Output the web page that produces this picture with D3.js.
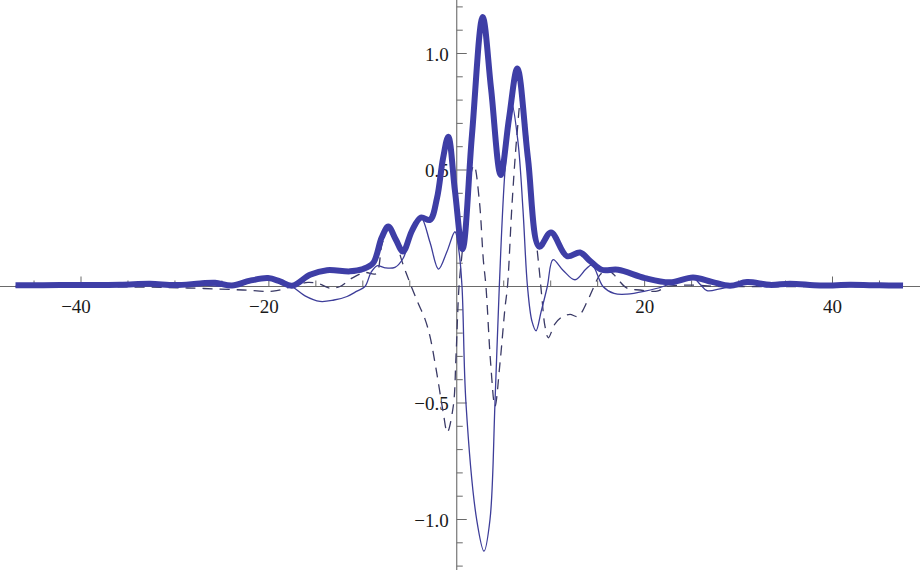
<!DOCTYPE html>
<html>
<head>
<meta charset="utf-8">
<script src="https://cdn.jsdelivr.net/npm/d3@7/dist/d3.min.js"></script>
<style>
  html, body { margin: 0; padding: 0; background: #fff; }
  svg { display: block; }
</style>
</head>
<body>
<svg id="chart" width="920" height="570"></svg>
<script>
// ---- Data (x, value) ----
const modulusSeries = [
  [-46.97, 0.005], [-42.24, 0.006], [-35.85, 0.008], [-32.65, 0.012], [-29.99, 0.006],
  [-27.33, 0.013], [-25.73, 0.016], [-23.92, 0.004], [-22.01, 0.025], [-20.09, 0.036],
  [-18.82, 0.022], [-17.54, 0.003], [-15.62, 0.05], [-13.81, 0.07], [-11.36, 0.065],
  [-9.98, 0.075], [-8.91, 0.1], [-7.99, 0.21], [-7.29, 0.257], [-6.47, 0.2],
  [-5.72, 0.15], [-4.76, 0.24], [-3.81, 0.296], [-2.85, 0.286], [-2.10, 0.38],
  [-1.46, 0.55], [-0.90, 0.643], [-0.19, 0.41], [0.61, 0.16], [1.62, 0.65],
  [2.76, 1.157], [3.65, 0.85], [4.68, 0.479], [5.56, 0.72], [6.45, 0.936],
  [7.58, 0.55], [8.79, 0.171], [10.03, 0.232], [11.74, 0.13], [13.12, 0.146],
  [14.18, 0.11], [15.43, 0.072], [17.17, 0.072], [20.04, 0.036], [22.70, 0.018],
  [25.15, 0.039], [27.17, 0.02], [29.09, 0.003], [30.90, 0.019], [33.35, 0.007],
  [35.48, 0.012], [38.67, 0.004], [41.86, 0.007], [45.05, 0.005], [47.51, 0.004]
];

const realSeries = [
  [-46.97, 0.0], [-38.03, 0.002], [-32.65, 0.008], [-27.33, 0.006], [-23.92, 0.0],
  [-22.01, 0.018], [-20.09, 0.032], [-18.82, 0.02], [-17.54, 0.0], [-16.15, -0.04],
  [-14.56, -0.064], [-13.07, -0.058], [-11.68, -0.043], [-10.62, -0.02], [-9.77, 0.0],
  [-9.13, 0.06], [-8.49, 0.089], [-7.64, 0.08], [-6.58, 0.082], [-5.72, 0.12],
  [-4.76, 0.23], [-3.81, 0.296], [-2.85, 0.19], [-1.94, 0.075], [-1.04, 0.15],
  [-0.19, 0.235], [0.24, 0.15], [0.56, 0.0], [0.98, -0.5], [2.12, -1.0],
  [2.90, -1.136], [3.54, -1.0], [4.07, -0.5], [4.53, 0.0], [5.14, 0.5],
  [5.85, 0.786], [6.52, 0.62], [7.05, 0.33], [7.53, 0.0], [8.01, -0.15],
  [8.44, -0.19], [8.97, -0.11], [9.64, 0.0], [10.25, 0.115], [11.31, 0.07],
  [12.59, 0.029], [13.76, 0.075], [14.40, 0.093], [15.57, 0.0], [16.74, -0.03],
  [18.12, -0.033], [20.04, -0.02], [21.96, 0.0], [23.77, 0.03], [25.15, 0.038],
  [25.90, 0.01], [26.64, -0.018], [28.02, -0.01], [29.09, 0.0], [30.90, 0.015],
  [32.82, 0.0], [36.55, 0.004], [41.86, 0.0], [47.51, 0.0]
];

const imagSeries = [
  [-46.97, 0.0], [-32.65, -0.003], [-27.33, -0.008], [-22.76, -0.015], [-19.56, -0.02],
  [-17.54, 0.0], [-15.84, 0.018], [-14.56, 0.01], [-13.49, -0.007], [-12.43, 0.0],
  [-11.15, 0.036], [-9.77, 0.06], [-8.60, 0.055], [-7.96, 0.18], [-7.32, 0.245],
  [-6.58, 0.2], [-5.72, 0.095], [-4.98, 0.015], [-4.13, -0.07], [-3.38, -0.14],
  [-2.85, -0.214], [-2.13, -0.371], [-1.43, -0.543], [-1.01, -0.626], [-0.37, -0.514],
  [-0.08, -0.3], [0.24, 0.0], [0.61, 0.16], [1.20, 0.42], [1.84, 0.52],
  [2.40, 0.37], [2.83, 0.114], [3.11, 0.0], [3.61, -0.33], [4.07, -0.514],
  [4.60, -0.33], [5.14, -0.09], [5.40, 0.0], [5.88, 0.35], [6.41, 0.65],
  [6.84, 0.80], [7.27, 0.74], [7.80, 0.5], [8.33, 0.25], [8.81, 0.06],
  [9.07, -0.05], [9.39, -0.17], [9.75, -0.22], [10.46, -0.16], [11.31, -0.128],
  [12.06, -0.12], [12.91, -0.128], [13.97, -0.057], [14.61, 0.0], [15.25, 0.05],
  [16.10, 0.07], [16.74, 0.05], [18.12, -0.007], [19.50, -0.015], [21.32, -0.02],
  [22.38, 0.0], [24.83, 0.006], [28.02, 0.0], [36.55, 0.0], [47.51, 0.0]
];

const xMajorTicks = [-40, -20, 20, 40];
const xMinorTicks = [-45, -35, -30, -25, -15, -10, -5, 5, 10, 15, 25, 30, 35, 45];
const yMajorTicks = [-1.0, -0.5, 0.5, 1.0];
const yMinorTicks = [-1.2, -1.1, -0.9, -0.8, -0.7, -0.6, -0.4, -0.3, -0.2, -0.1,
                     0.1, 0.2, 0.3, 0.4, 0.6, 0.7, 0.8, 0.9, 1.1, 1.2];

// ---- Drawing ----
const W = 920, H = 570;
const svg = d3.select("#chart");

const x = d3.scaleLinear().domain([-40, 40]).range([81, 832.5]);
const y = d3.scaleLinear().domain([-1, 1]).range([519.5, 53.5]);

const axisColor = "#6a6a6a";
const x0 = x(0), y0 = y(0);

const axes = svg.append("g");
axes.append("line").attr("x1", 0).attr("x2", W).attr("y1", y0).attr("y2", y0)
  .attr("stroke", axisColor).attr("stroke-width", 1.1);
axes.append("line").attr("x1", x0).attr("x2", x0).attr("y1", 0).attr("y2", H)
  .attr("stroke", axisColor).attr("stroke-width", 1.1);

axes.selectAll(".xmaj").data(xMajorTicks).enter().append("line")
  .attr("x1", d => x(d)).attr("x2", d => x(d)).attr("y1", y0).attr("y2", y0 - 10)
  .attr("stroke", axisColor).attr("stroke-width", 1);
axes.selectAll(".xmin").data(xMinorTicks).enter().append("line")
  .attr("x1", d => x(d)).attr("x2", d => x(d)).attr("y1", y0).attr("y2", y0 - 6)
  .attr("stroke", axisColor).attr("stroke-width", 1);
axes.selectAll(".ymaj").data(yMajorTicks).enter().append("line")
  .attr("x1", x0).attr("x2", x0 + 10).attr("y1", d => y(d)).attr("y2", d => y(d))
  .attr("stroke", axisColor).attr("stroke-width", 1);
axes.selectAll(".ymin").data(yMinorTicks).enter().append("line")
  .attr("x1", x0).attr("x2", x0 + 6).attr("y1", d => y(d)).attr("y2", d => y(d))
  .attr("stroke", axisColor).attr("stroke-width", 1);

const fmtX = d => (d < 0 ? "\u2212" : "") + Math.abs(d);
const fmtY = d => (d < 0 ? "\u2212" : "") + Math.abs(d).toFixed(1);

axes.selectAll(".xlab").data(xMajorTicks).enter().append("text")
  .attr("x", d => x(d) - (d < 0 ? 5 : 0)).attr("y", y0 + 26)
  .attr("text-anchor", "middle")
  .attr("font-family", "'Liberation Serif', 'Times New Roman', serif")
  .attr("font-size", 19).attr("fill", "#1a1a1a")
  .text(fmtX);
axes.selectAll(".ylab").data(yMajorTicks).enter().append("text")
  .attr("x", x0 - 8).attr("y", d => y(d) + 7)
  .attr("text-anchor", "end")
  .attr("font-family", "'Liberation Serif', 'Times New Roman', serif")
  .attr("font-size", 19).attr("fill", "#1a1a1a")
  .text(fmtY);

const line = d3.line()
  .x(d => x(d[0])).y(d => y(d[1]))
  .curve(d3.curveCatmullRom.alpha(0.5));

svg.append("path").datum(imagSeries)
  .attr("d", line).attr("fill", "none")
  .attr("stroke", "#3a3a66").attr("stroke-width", 1.3)
  .attr("stroke-dasharray", "10,7");

svg.append("path").datum(realSeries)
  .attr("d", line).attr("fill", "none")
  .attr("stroke", "#3d3d99").attr("stroke-width", 1.3);

svg.append("path").datum(modulusSeries)
  .attr("d", line).attr("fill", "none")
  .attr("stroke", "#3e3ea6").attr("stroke-width", 6)
  .attr("stroke-linejoin", "round");
</script>
</body>
</html>
